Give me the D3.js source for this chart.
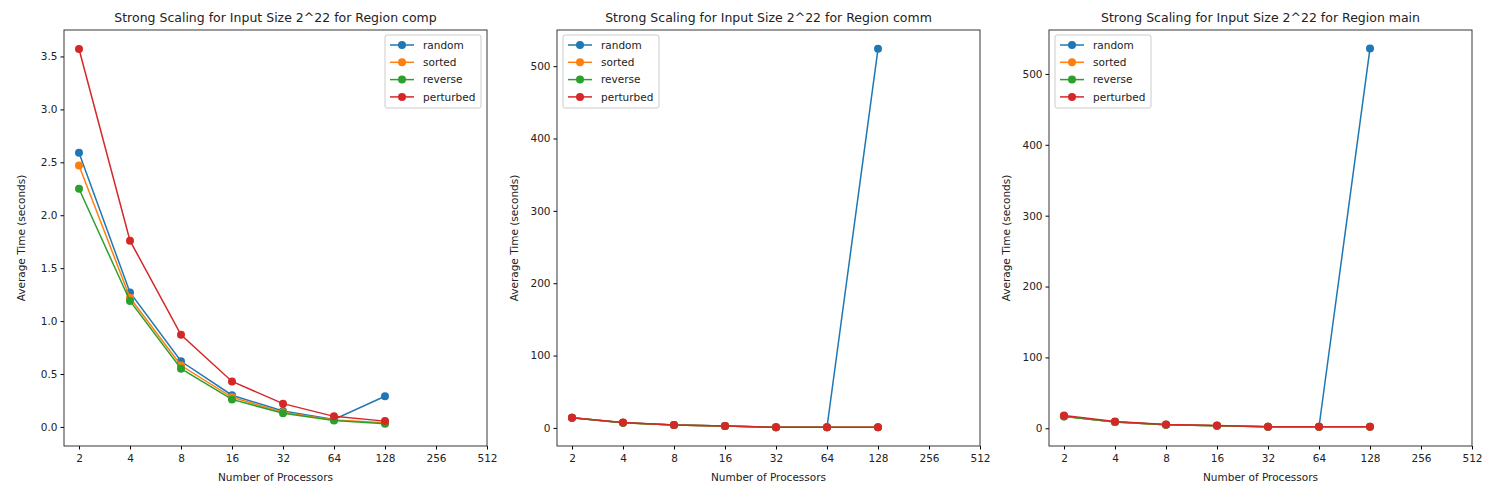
<!DOCTYPE html>
<html>
<head>
<meta charset="utf-8">
<script src="https://d3js.org/d3.v7.min.js"></script>
<style>
  body { margin: 0; background: #fff; font-family: "DejaVu Sans", sans-serif; }
  text { fill: #222; }
</style>
</head>
<body>
<svg id="chart" width="1502" height="488"></svg>
<script>
// processors
var procs = [2, 4, 8, 16, 32, 64, 128];
var xTicks = [2, 4, 8, 16, 32, 64, 128, 256, 512];
var seriesNames = ["random", "sorted", "reverse", "perturbed"];
var colors = ["#1f77b4", "#ff7f0e", "#2ca02c", "#d62728"];

// region comp
var compRandom = [2.59, 1.27, 0.62, 0.30, 0.15, 0.07, 0.29];
var compSorted = [2.47, 1.22, 0.58, 0.28, 0.14, 0.065, 0.04];
var compReverse = [2.25, 1.19, 0.55, 0.26, 0.13, 0.06, 0.03];
var compPerturbed = [3.57, 1.76, 0.87, 0.43, 0.22, 0.10, 0.055];

// region comm
var commRandom = [14, 7, 4, 2.5, 1, 0.8, 524];
var commSorted = [14, 7, 4, 2.5, 1, 0.8, 1];
var commReverse = [14, 7, 4, 2.5, 1, 0.8, 1];
var commPerturbed = [14, 7.5, 4, 2.5, 1, 0.8, 1];

// region main
var mainRandom = [17, 9, 5, 3.5, 2, 2, 536];
var mainSorted = [17, 9, 5, 3.5, 2, 2, 2];
var mainReverse = [16.5, 9, 5, 3.5, 2, 2, 2];
var mainPerturbed = [18, 9.5, 5.5, 4, 2.2, 2, 2];

var panels = [
  { region: "comp", left: 64, series: [compRandom, compSorted, compReverse, compPerturbed],
    yDomain: [-0.18, 3.75], yTicks: [0, 0.5, 1, 1.5, 2, 2.5, 3, 3.5], fmt: d3.format(".1f"), legendRight: true },
  { region: "comm", left: 557, series: [commRandom, commSorted, commReverse, commPerturbed],
    yDomain: [-25, 550], yTicks: [0, 100, 200, 300, 400, 500], fmt: d3.format("d"), legendRight: false },
  { region: "main", left: 1049, series: [mainRandom, mainSorted, mainReverse, mainPerturbed],
    yDomain: [-25, 562], yTicks: [0, 100, 200, 300, 400, 500], fmt: d3.format("d"), legendRight: false }
];

var svg = d3.select("#chart");
var W = 423, plotTop = 30, plotBottom = 446;

panels.forEach(function(p) {
  var g = svg.append("g").attr("transform", "translate(" + p.left + ",0)");
  var x = d3.scaleLog().base(2).domain([Math.pow(2, 0.706), 512]).range([0, W]);
  var y = d3.scaleLinear().domain(p.yDomain).range([plotBottom, plotTop]);

  var xa = g.append("g").attr("transform", "translate(0," + plotBottom + ")")
    .call(d3.axisBottom(x).tickValues(xTicks).tickFormat(d3.format("d")).tickSizeOuter(0).tickSize(3.5));
  var ya = g.append("g")
    .call(d3.axisLeft(y).tickValues(p.yTicks).tickFormat(p.fmt).tickSizeOuter(0).tickSize(3.5));
  [xa, ya].forEach(function(a) {
    a.select(".domain").remove();
    a.selectAll("text").style("font-size", "10.5px").style("font-family", "DejaVu Sans").attr("fill", "#222");
  });
  xa.selectAll("text").attr("dy", "0.9em");

  g.append("rect").attr("x", 0).attr("y", plotTop).attr("width", W).attr("height", plotBottom - plotTop)
    .attr("fill", "none").attr("stroke", "#222").attr("stroke-width", 0.9);

  g.append("text").attr("x", W / 2).attr("y", 22).attr("text-anchor", "middle")
    .style("font-size", "12.5px").text("Strong Scaling for Input Size 2^22 for Region " + p.region);
  g.append("text").attr("x", W / 2).attr("y", 481).attr("text-anchor", "middle")
    .style("font-size", "10.5px").text("Number of Processors");
  g.append("text").attr("transform", "translate(-39," + ((plotTop + plotBottom) / 2) + ") rotate(-90)")
    .attr("text-anchor", "middle").style("font-size", "10.5px").text("Average Time (seconds)");

  var line = d3.line().x(function(d, i) { return x(procs[i]); }).y(function(d) { return y(d); });
  p.series.forEach(function(s, k) {
    g.append("path").datum(s).attr("d", line).attr("fill", "none")
      .attr("stroke", colors[k]).attr("stroke-width", 1.5);
    g.selectAll(null).data(s).enter().append("circle")
      .attr("cx", function(d, i) { return x(procs[i]); })
      .attr("cy", function(d) { return y(d); })
      .attr("r", 4).attr("fill", colors[k]);
  });

  // legend
  var lw = 96, lh = 73;
  var lx = p.legendRight ? W - lw - 6 : 6, ly = plotTop + 5;
  var lg = g.append("g").attr("transform", "translate(" + lx + "," + ly + ")");
  lg.append("rect").attr("width", lw).attr("height", lh).attr("rx", 2)
    .attr("fill", "#fff").attr("fill-opacity", 0.8).attr("stroke", "#ccc");
  seriesNames.forEach(function(n, k) {
    var yy = 10 + k * 17.3;
    lg.append("line").attr("x1", 5).attr("x2", 29).attr("y1", yy).attr("y2", yy)
      .attr("stroke", colors[k]).attr("stroke-width", 1.5);
    lg.append("circle").attr("cx", 17).attr("cy", yy).attr("r", 4).attr("fill", colors[k]);
    lg.append("text").attr("x", 38).attr("y", yy).attr("dy", "0.35em")
      .style("font-size", "10.5px").text(n);
  });
});
</script>
</body>
</html>
